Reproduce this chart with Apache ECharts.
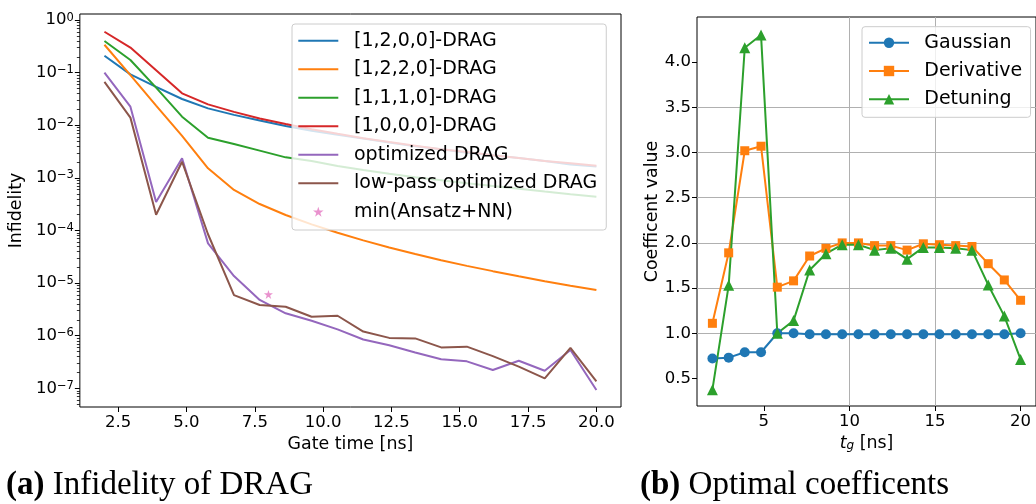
<!DOCTYPE html>
<html><head><meta charset="utf-8">
<script src="https://cdn.jsdelivr.net/npm/echarts@6/dist/echarts.min.js"></script>
<style>html,body{margin:0;padding:0;background:#fff}#c{width:1036px;height:504px}</style>
</head><body><div id="c"></div>
<script>
// ---------- data ----------
const tg = [2.00, 2.95, 3.89, 4.84, 5.79, 6.74, 7.68, 8.63, 9.58, 10.53, 11.47, 12.42, 13.37, 14.32, 15.26, 16.21, 17.16, 18.11, 19.05, 20.00];
const drag1200 = [0.21, 0.093, 0.054, 0.0316, 0.021, 0.0158, 0.0123, 0.0097, 0.0079, 0.0066, 0.0056, 0.0047, 0.0040, 0.0035, 0.0030, 0.0027, 0.0024, 0.0021, 0.0018, 0.00165];
const drag1220 = [0.34, 0.09, 0.0237, 0.0063, 0.00152, 5.9e-4, 3.19e-4, 1.97e-4, 1.31e-4, 9.06e-5, 6.5e-5, 4.77e-5, 3.57e-5, 2.73e-5, 2.13e-5, 1.69e-5, 1.35e-5, 1.09e-5, 8.96e-6, 7.4e-6];
const drag1110 = [0.40, 0.174, 0.052, 0.0146, 0.0058, 0.0044, 0.0033, 0.00246, 0.0021, 0.00168, 0.00141, 0.0012, 0.00103, 0.0009, 0.00079, 0.0007, 0.00062, 0.00055, 0.00049, 0.00044];
const drag1000 = [0.6, 0.30, 0.111, 0.0406, 0.025, 0.018, 0.0135, 0.0106, 0.00845, 0.0069, 0.0057, 0.0048, 0.0041, 0.0035, 0.0031, 0.0027, 0.0024, 0.0021, 0.0019, 0.0017];
const optDrag = [0.1, 0.0226, 3.5e-4, 2.36e-3, 5.7e-5, 1.36e-5, 4.8e-6, 2.67e-6, 1.93e-6, 1.32e-6, 8.5e-7, 6.6e-7, 4.8e-7, 3.56e-7, 3.26e-7, 2.23e-7, 3.35e-7, 2.16e-7, 5.35e-7, 9.3e-8];
const lowPassDrag = [0.067, 0.014, 2.0e-4, 2.03e-3, 8.5e-5, 5.9e-6, 3.84e-6, 3.56e-6, 2.3e-6, 2.4e-6, 1.2e-6, 9.1e-7, 8.9e-7, 6.0e-7, 6.2e-7, 4.1e-7, 2.58e-7, 1.55e-7, 5.9e-7, 1.36e-7];
const ansatzNN = [[8.0, 6.1e-6]];

const gaussian = [0.72, 0.73, 0.79, 0.79, 1.0, 1.0, 0.99, 0.99, 0.99, 0.99, 0.99, 0.99, 0.99, 0.99, 0.99, 0.99, 0.99, 0.99, 0.99, 1.0];
const derivative = [1.11, 1.89, 3.02, 3.07, 1.51, 1.58, 1.855, 1.94, 2.0, 2.0, 1.97, 1.97, 1.92, 1.99, 1.98, 1.97, 1.96, 1.77, 1.59, 1.365];
const detuning = [0.376, 1.53, 4.16, 4.30, 1.0, 1.14, 1.70, 1.88, 1.98, 1.98, 1.92, 1.94, 1.82, 1.95, 1.95, 1.94, 1.92, 1.535, 1.19, 0.71];

const leftNames = ['[1,2,0,0]-DRAG', '[1,2,2,0]-DRAG', '[1,1,1,0]-DRAG', '[1,0,0,0]-DRAG', 'optimized DRAG', 'low-pass optimized DRAG', 'min(Ansatz+NN)'];
const rightNames = ['Gaussian', 'Derivative', 'Detuning'];
const xTicksLeft = [2.5, 5, 7.5, 10, 12.5, 15, 17.5, 20];
const yTicksLeft = [1e-7, 1e-6, 1e-5, 1e-4, 1e-3, 1e-2, 1e-1, 1];
const xTicksRight = [5, 10, 15, 20];
const yTicksRight = [0.5, 1.0, 1.5, 2.0, 2.5, 3.0, 3.5, 4.0];

// ---------- styling ----------
const FONT = 'DejaVu Sans';
const SERIF = 'Liberation Serif';
const C = ['#1f77b4', '#ff7f0e', '#2ca02c', '#d62728', '#9467bd', '#8c564b', '#e377c2'];
const STAR = 'path://M100,0L122.45,69.1L195.11,69.1L136.33,111.8L158.78,180.9L100,138.2L41.22,180.9L63.67,111.8L4.89,69.1L77.55,69.1Z';
const LINE_ICON = 'path://M0,0L400,0L400,20L0,20Z';
const yMin = 4.42e-8, yMax = 1.306;
const minorTicks = [];
for (let k = -8; k <= 0; k++) for (let m = 2; m <= 9; m++) { const v = m * Math.pow(10, k); if (v > yMin && v < yMax) minorTicks.push(v); }

const pair = arr => tg.map((t, i) => [t, arr[i]]);
function lineS(name, arr, color) {
  return { type: 'line', name, data: pair(arr), xAxisIndex: 0, yAxisIndex: 0, symbol: 'none', showSymbol: false,
    lineStyle: { color, width: 2 }, itemStyle: { color }, z: 2 };
}
function markS(name, arr, color, symbol, size) {
  return { type: 'line', name, data: pair(arr), xAxisIndex: 1, yAxisIndex: 2, symbol, symbolSize: size,
    showSymbol: true, lineStyle: { color, width: 2 }, itemStyle: { color }, z: 2 };
}
const supFmt = v => { const e = Math.round(Math.log10(v)); return '{b|10}{s|' + (e < 0 ? '\u2212' + (-e) : String(e)) + '}'; };

const option = {
  animation: false,
  textStyle: { fontFamily: FONT, color: '#000' },
  title: [
    { text: '{b|(a)} Infidelity of DRAG', left: 6, top: 469, padding: 0,
      textStyle: { fontFamily: SERIF, fontSize: 33, fontWeight: 'normal', color: '#000',
        rich: { b: { fontFamily: SERIF, fontSize: 33, fontWeight: 'bold', color: '#000' } } } },
    { text: '{b|(b)} Optimal coefficents', left: 640, top: 469, padding: 0,
      textStyle: { fontFamily: SERIF, fontSize: 33, fontWeight: 'normal', color: '#000',
        rich: { b: { fontFamily: SERIF, fontSize: 33, fontWeight: 'bold', color: '#000' } } } }
  ],
  grid: [
    { left: 77, top: 14, right: 415, bottom: 97, show: true, borderColor: '#000', borderWidth: 1, backgroundColor: 'transparent', containLabel: false },
    { left: 697, top: 17, right: -4, bottom: 98, show: true, borderColor: '#000', borderWidth: 1, backgroundColor: 'transparent', containLabel: false }
  ],
  legend: [
    { data: leftNames.slice(0, 6).map((n, i) => ({ name: n, icon: LINE_ICON, itemStyle: { color: C[i] } })).concat([{ name: leftNames[6], icon: STAR }]),
      left: 292, top: 24, orient: 'vertical', itemWidth: 40, itemHeight: 10, itemGap: 8.5,
      padding: [6.7, 9, 8.3, 6.3], backgroundColor: 'rgba(255,255,255,0.8)', borderColor: '#cccccc', borderWidth: 1, borderRadius: 3,
      textStyle: { fontFamily: FONT, fontSize: 19, color: '#000', lineHeight: 20, padding: [0, 0, 0, 10.7] }, selectedMode: false },
    { data: rightNames, left: 862, top: 26.7, orient: 'vertical', itemWidth: 40, itemHeight: 13, itemGap: 8.3,
      padding: [6, 8.3, 8, 6], backgroundColor: 'rgba(255,255,255,0.8)', borderColor: '#cccccc', borderWidth: 1, borderRadius: 3,
      textStyle: { fontFamily: FONT, fontSize: 19, color: '#000', lineHeight: 20, padding: [0, 0, 0, 10.3] }, selectedMode: false }
  ],
  xAxis: [
    { type: 'value', gridIndex: 0, min: 1.1, max: 20.9,
      name: 'Gate time [ns]', nameLocation: 'middle', nameGap: 27, nameTextStyle: { fontFamily: FONT, fontSize: 17.4, color: '#000' },
      axisLine: { show: false }, splitLine: { show: false },
      axisTick: { show: true, customValues: xTicksLeft, length: 5, lineStyle: { color: '#000', width: 1 } },
      axisLabel: { customValues: xTicksLeft, formatter: v => v.toFixed(1), fontFamily: FONT, fontSize: 16.5, color: '#000', margin: 7 } },
    { type: 'value', gridIndex: 1, min: 1.1, max: 20.9, splitNumber: 4,
      name: '{i|t}{s|g}{n| [ns]}', nameLocation: 'middle', nameGap: 27,
      nameTextStyle: { fontFamily: FONT, fontSize: 17.4, color: '#000', rich: {
        i: { fontFamily: FONT, fontSize: 17.4, fontStyle: 'italic', color: '#000' },
        s: { fontFamily: FONT, fontSize: 12, fontStyle: 'italic', color: '#000', verticalAlign: 'bottom', lineHeight: 8 },
        n: { fontFamily: FONT, fontSize: 17.4, color: '#000' } } },
      axisLine: { show: false },
      splitLine: { show: true, showMinLine: false, showMaxLine: false, lineStyle: { color: '#b0b0b0', width: 1 } },
      axisTick: { show: true, customValues: xTicksRight, length: 5, lineStyle: { color: '#000', width: 1 } },
      axisLabel: { customValues: xTicksRight, formatter: v => String(v), fontFamily: FONT, fontSize: 16.5, color: '#000', margin: 7 } }
  ],
  yAxis: [
    { type: 'log', gridIndex: 0, position: 'left', min: yMin, max: yMax, logBase: 10,
      name: 'Infidelity', nameLocation: 'middle', nameGap: 48, nameTextStyle: { fontFamily: FONT, fontSize: 17.4, color: '#000' },
      axisLine: { show: false }, splitLine: { show: false }, minorTick: { show: false },
      axisTick: { show: true, customValues: yTicksLeft, length: 5, lineStyle: { color: '#000', width: 1 } },
      axisLabel: { customValues: yTicksLeft, formatter: supFmt, margin: 6, color: '#000',
        rich: { b: { fontFamily: FONT, fontSize: 16.5, color: '#000' },
                s: { fontFamily: FONT, fontSize: 11.5, color: '#000', verticalAlign: 'top', lineHeight: 8 } } } },
    { type: 'log', gridIndex: 0, position: 'left', min: yMin, max: yMax, logBase: 10,
      axisLine: { show: false }, splitLine: { show: false }, axisLabel: { show: false },
      axisTick: { show: true, customValues: minorTicks, length: 3, lineStyle: { color: '#000', width: 0.8 } } },
    { type: 'value', gridIndex: 1, position: 'left', min: 0.195, max: 4.5, splitNumber: 8,
      name: 'Coefficent value', nameLocation: 'middle', nameGap: 36, nameTextStyle: { fontFamily: FONT, fontSize: 17.4, color: '#000' },
      axisLine: { show: false },
      splitLine: { show: true, showMinLine: false, showMaxLine: false, lineStyle: { color: '#b0b0b0', width: 1 } },
      axisTick: { show: true, customValues: yTicksRight, length: 5, lineStyle: { color: '#000', width: 1 } },
      axisLabel: { customValues: yTicksRight, formatter: v => v.toFixed(1), fontFamily: FONT, fontSize: 16.5, color: '#000', margin: 6 } }
  ],
  series: [
    lineS(leftNames[0], drag1200, C[0]),
    lineS(leftNames[1], drag1220, C[1]),
    lineS(leftNames[2], drag1110, C[2]),
    lineS(leftNames[3], drag1000, C[3]),
    lineS(leftNames[4], optDrag, C[4]),
    lineS(leftNames[5], lowPassDrag, C[5]),
    { type: 'scatter', name: leftNames[6], data: ansatzNN, xAxisIndex: 0, yAxisIndex: 0, symbol: STAR, symbolSize: 9,
      itemStyle: { color: C[6] }, z: 3 },
    markS(rightNames[0], gaussian, C[0], 'circle', 10),
    markS(rightNames[1], derivative, C[1], 'rect', 9),
    markS(rightNames[2], detuning, C[2], 'triangle', 11)
  ]
};
const chart = echarts.init(document.getElementById('c'), null, { renderer: 'canvas' });
chart.setOption(option);
</script></body></html>
